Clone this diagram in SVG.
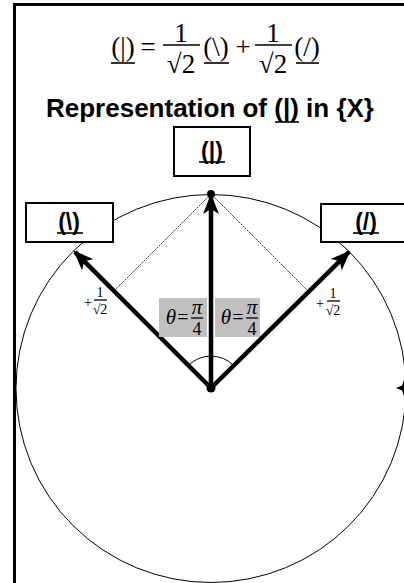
<svg xmlns="http://www.w3.org/2000/svg" width="404" height="583" viewBox="0 0 404 583">
<style>
.frame{fill:none;stroke:#000;stroke-width:3}
.box{fill:#fff;stroke:#000;stroke-width:2}
.lbl{font-family:"Liberation Sans",Arial,sans-serif;font-weight:bold;font-size:23px;text-anchor:middle}
.title{font-family:"Liberation Sans",Arial,sans-serif;font-weight:bold;font-size:26px;text-anchor:middle}
.eq{font-family:"Liberation Serif","Times New Roman",serif;font-size:27px;text-anchor:middle}
.sm{font-family:"Liberation Serif","Times New Roman",serif;font-size:14px;text-anchor:middle}
.th{font-family:"Liberation Serif","Times New Roman",serif;font-style:italic;font-size:21px;text-anchor:middle}
.ul{stroke:#000;stroke-width:1.6}
.bar{stroke:#000;stroke-width:1.3}
.vec{stroke:#000;stroke-width:4.5;fill:none}
.thin{stroke:#000;stroke-width:0.8;fill:none;stroke-dasharray:2 1}
.gray{fill:#c0c0c0}
</style>
<defs>
<marker id="ah" markerUnits="userSpaceOnUse" markerWidth="20" markerHeight="16" refX="18" refY="8" orient="auto">
<path d="M0,0 L20,8 L0,16 L5,8 Z" fill="#000"/>
</marker>
</defs>
<rect class="frame" x="14.5" y="4.5" width="400" height="600"/>

<g id="equation">
<text class="eq" x="123" y="56">(|)</text>
<line class="ul" x1="111" y1="63" x2="135" y2="63"/>
<text class="eq" x="148" y="56">=</text>
<text class="eq" x="181" y="42">1</text>
<line class="bar" x1="163" y1="45" x2="200" y2="45"/>
<text class="eq" x="181" y="73">√2</text>
<text class="eq" x="216" y="56">(\)</text>
<line class="ul" x1="204" y1="63" x2="229" y2="63"/>
<text class="eq" x="243" y="56">+</text>
<text class="eq" x="273" y="42">1</text>
<line class="bar" x1="255" y1="45" x2="292" y2="45"/>
<text class="eq" x="273" y="73">√2</text>
<text class="eq" x="307" y="56">(/)</text>
<line class="ul" x1="296" y1="63" x2="319" y2="63"/>
</g>

<g id="title">
<text class="title" x="210" y="117">Representation of (|) in {X}</text>
<line class="ul" x1="275" y1="122" x2="299" y2="122"/>
</g>

<ellipse cx="211" cy="388.5" rx="195" ry="194" fill="none" stroke="#000" stroke-width="1"/>

<g id="connectors">
<line class="thin" x1="211" y1="194" x2="114" y2="291"/>
<line class="thin" x1="211" y1="194" x2="308" y2="291"/>
<line class="vec" x1="211" y1="388" x2="211" y2="196" marker-end="url(#ah)"/>
<line class="vec" x1="211" y1="388" x2="75" y2="252" marker-end="url(#ah)"/>
<line class="vec" x1="211" y1="388" x2="349" y2="252" marker-end="url(#ah)"/>
<path d="M188.4,365.4 A32,32 0 0 1 233.6,365.4" fill="none" stroke="#000" stroke-width="1"/>
</g>

<circle cx="211" cy="388" r="4.5" fill="#000"/>
<circle cx="211" cy="194" r="4" fill="#000"/>
<path d="M396,388 L402,385.5 L404,380 L404,396 L402,390.5 Z" fill="#000"/>

<g id="node-vertical">
<rect class="box" x="174" y="127" width="76" height="49"/>
<text class="lbl" x="212" y="159">(|)</text>
<line class="ul" x1="199" y1="162" x2="225" y2="162"/>
</g>
<g id="node-left">
<rect class="box" x="26" y="203" width="87" height="39"/>
<text class="lbl" x="69" y="230">(\)</text>
<line class="ul" x1="57" y1="233" x2="83" y2="233"/>
</g>
<g id="node-right">
<rect class="box" x="321" y="204" width="87" height="38"/>
<text class="lbl" x="366" y="230">(/)</text>
<line class="ul" x1="353" y1="233" x2="379" y2="233"/>
</g>

<g id="coef-left">
<text class="sm" x="88" y="307">+</text>
<text class="sm" x="100" y="297">1</text>
<line class="bar" x1="94" y1="300" x2="107" y2="300" stroke-width="0.8"/>
<text class="sm" x="100" y="314">√2</text>
</g>
<g id="coef-right">
<text class="sm" x="320" y="308">+</text>
<text class="sm" x="333" y="298">1</text>
<line class="bar" x1="327" y1="301" x2="340" y2="301" stroke-width="0.8"/>
<text class="sm" x="333" y="315">√2</text>
</g>

<g id="theta-left">
<rect class="gray" x="159" y="298" width="48" height="39"/>
<text class="th" x="171" y="324">θ</text>
<text class="eq" x="183" y="324" style="font-size:20px">=</text>
<text class="th" x="197" y="314">π</text>
<line class="bar" x1="191" y1="318" x2="203" y2="318"/>
<text class="eq" x="197" y="335" style="font-size:18px">4</text>
</g>
<g id="theta-right">
<rect class="gray" x="215" y="298" width="45" height="39"/>
<text class="th" x="226" y="324">θ</text>
<text class="eq" x="238" y="324" style="font-size:20px">=</text>
<text class="th" x="252" y="314">π</text>
<line class="bar" x1="246" y1="318" x2="258" y2="318"/>
<text class="eq" x="252" y="335" style="font-size:18px">4</text>
</g>
</svg>
